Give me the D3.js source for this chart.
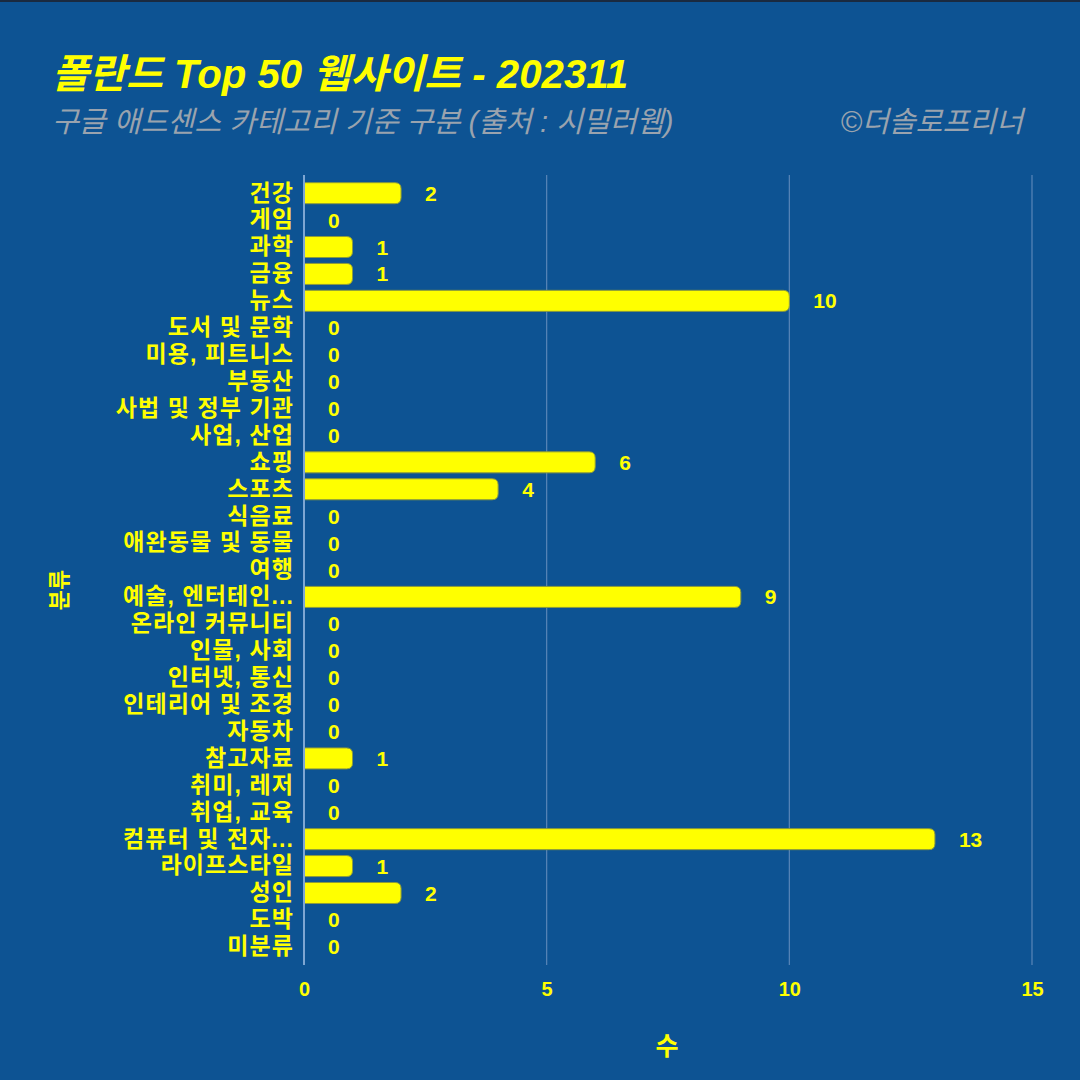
<!DOCTYPE html>
<html><head><meta charset="utf-8">
<script src="https://cdn.jsdelivr.net/npm/d3@7"></script>
<style>
html,body{margin:0;padding:0;background:#0d5393;}
svg{display:block;}
</style></head>
<body>
<svg id="c" width="1080" height="1080"></svg>
<script>
const categories = ["건강","게임","과학","금융","뉴스","도서 및 문학","미용, 피트니스","부동산","사법 및 정부 기관","사업, 산업","쇼핑","스포츠","식음료","애완동물 및 동물","여행","예술, 엔터테인...","온라인 커뮤니티","인물, 사회","인터넷, 통신","인테리어 및 조경","자동차","참고자료","취미, 레저","취업, 교육","컴퓨터 및 전자...","라이프스타일","성인","도박","미분류"];
const values = [2,0,1,1,10,0,0,0,0,0,6,4,0,0,0,9,0,0,0,0,0,1,0,0,13,1,2,0,0];
const xTicks = [0,5,10,15];
const titleText = "폴란드 Top 50 웹사이트 - 202311";
const subtitleText = "구글 애드센스 카테고리 기준 구분 (출처 : 시밀러웹)";
const creditText = "©더솔로프리너";
const xTitle = "수";
const yTitle = "분류";

(function(){
const FONT = "'Liberation Sans','Noto Sans CJK KR',sans-serif";
const svg = d3.select("#c");
const W = 1080, H = 1080;
const mLeft = 304, mRight = 1032, mTop = 180, mBottom = 960;
const yellow = "#ffff00";

svg.append("rect").attr("width",W).attr("height",H).attr("fill","#0d5393");
svg.append("rect").attr("width",W).attr("height",2).attr("fill","#1a2a40");

const x = d3.scaleLinear().domain([0,15]).range([mLeft,mRight]);
const y = d3.scaleBand().domain(categories).range([mTop,mBottom]).paddingInner(0.22).paddingOuter(0.1);

// gridlines
svg.append("g").selectAll("line").data(xTicks.filter(d=>d>0)).join("line")
  .attr("x1",d=>x(d)).attr("x2",d=>x(d)).attr("y1",175).attr("y2",965)
  .attr("stroke","#5a86b8").attr("stroke-width",1.2);

// x axis
const xg = svg.append("g").attr("transform",`translate(0,${965})`)
  .call(d3.axisBottom(x).tickValues(xTicks).tickSize(0).tickPadding(17));
xg.select(".domain").remove();
xg.selectAll("text").attr("fill",yellow).attr("font-family",FONT).attr("font-weight","bold").attr("font-size",20);

// y axis
const yg = svg.append("g").attr("transform",`translate(${mLeft},0)`)
  .call(d3.axisLeft(y).tickSize(0).tickPadding(10));
yg.select(".domain").remove();
yg.selectAll("text").attr("fill",yellow).attr("font-family",FONT).attr("font-weight","bold")
  .attr("font-size",23).attr("letter-spacing","1.1px");

// bars
svg.append("g").selectAll("path").data(categories).join("path")
  .attr("d",(d,i)=>{
    const x0 = x(0), x1 = x(values[i]), y0 = y(d), h = y.bandwidth();
    const r = Math.min(6,(x1-x0));
    if (x1 - x0 <= 0) return `M${x0},${y0}h0.5v${h}h-0.5z`;
    return `M${x0},${y0}H${x1-r}Q${x1},${y0} ${x1},${y0+r}V${y0+h-r}Q${x1},${y0+h} ${x1-r},${y0+h}H${x0}Z`;
  })
  .attr("fill",yellow).attr("stroke","#8c9a3c").attr("stroke-width",1);

// axis line
svg.append("line").attr("x1",mLeft).attr("x2",mLeft).attr("y1",175).attr("y2",965)
  .attr("stroke","#7ea6d2").attr("stroke-width",2);

// value labels
svg.append("g").selectAll("text").data(categories).join("text")
  .attr("x",(d,i)=>x(values[i])+24).attr("y",d=>y(d)+y.bandwidth()/2)
  .attr("dy","0.36em").attr("fill",yellow).attr("font-family",FONT).attr("font-weight","bold").attr("font-size",21)
  .text((d,i)=>values[i]);

// titles
svg.append("text").attr("x",52).attr("y",88).attr("fill",yellow).attr("font-family",FONT)
  .attr("font-weight","bold").attr("font-style","italic").attr("font-size",40.2).text(titleText);
svg.append("text").attr("x",52).attr("y",132).attr("fill","#9aa3ae").attr("font-family",FONT)
  .attr("font-style","italic").attr("font-size",29.2).text(subtitleText);
svg.append("text").attr("x",1023).attr("y",132).attr("text-anchor","end").attr("fill","#9aa3ae").attr("font-family",FONT)
  .attr("font-style","italic").attr("font-size",29.2).text(creditText);

// axis titles
svg.append("text").attr("x",667).attr("y",1055).attr("text-anchor","middle").attr("fill",yellow)
  .attr("font-family",FONT).attr("font-weight","bold").attr("font-size",25).text(xTitle);
svg.append("text").attr("transform","translate(67,590) rotate(-90)").attr("text-anchor","middle").attr("fill",yellow)
  .attr("font-family",FONT).attr("font-weight","bold").attr("font-size",22).text(yTitle);
})();
</script>
</body></html>
